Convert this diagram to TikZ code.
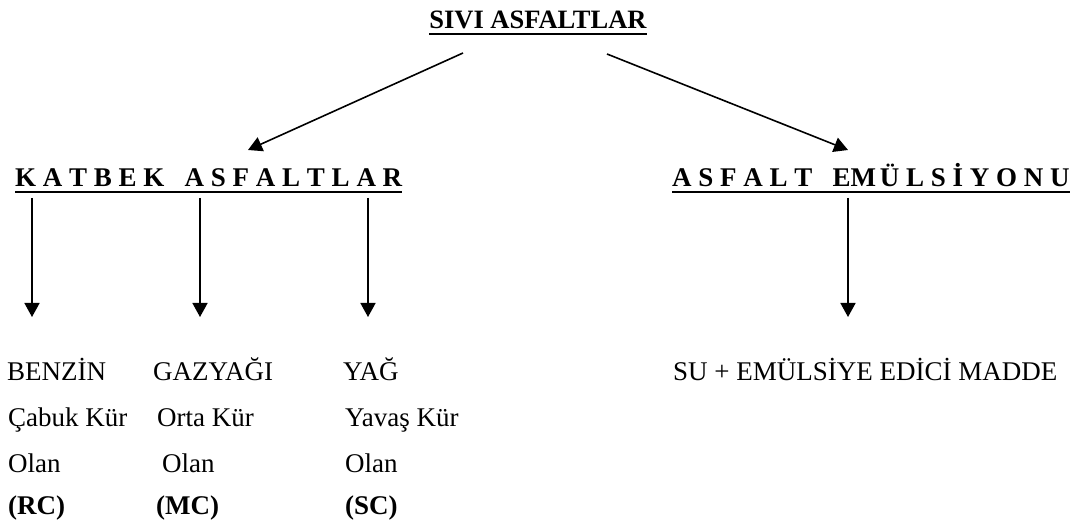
\documentclass[tikz,border=0pt]{standalone}
\usepackage{fontspec}
\setmainfont{Liberation Serif}
\usetikzlibrary{arrows.meta}
\begin{document}
\begin{tikzpicture}[x=1pt,y=-1pt,
    every node/.style={inner sep=0pt,anchor=base west,font=\fontsize{27}{32}\selectfont},
    head/.style={font=\fontsize{27}{32}\selectfont\bfseries},
    arr/.style={line width=1.6pt,-{Triangle[width=15pt,length=14pt]}},
    uline/.style={line width=2.5pt}]
    \useasboundingbox (0,0) rectangle (1077,529);

    % headings
    \node[head,font=\fontsize{26.5}{32}\selectfont\bfseries,anchor=base] (title) at (538,29) {SIVI ASFALTLAR};
    \node[head] (katbek) at (15,187) {K A T B E K\ \ \ A S F A L T L A R};
    \node[head] (emul) at (672,187) {A S F A L T\ \ \ EM\kern-3pt\ Ü L S İ Y O N U};
    \draw[uline] ([yshift=-5pt]title.base west) -- ([yshift=-5pt]title.base east);
    \draw[uline] ([yshift=-5pt]katbek.base west) -- ([yshift=-5pt]katbek.base east);
    \draw[uline] ([yshift=-5pt]emul.base west) -- ([yshift=-5pt]emul.base east);

    % arrow ends
    \coordinate (l0) at (463,53);  \coordinate (l1) at (248,150);
    \coordinate (r0) at (607,54);  \coordinate (r1) at (848,150);
    \coordinate (a0) at (32,198);  \coordinate (a1) at (32,317);
    \coordinate (b0) at (200,198); \coordinate (b1) at (200,317);
    \coordinate (c0) at (368,198); \coordinate (c1) at (368,317);
    \coordinate (d0) at (848,198); \coordinate (d1) at (848,317);
    \draw[arr] (l0) -- (l1);
    \draw[arr] (r0) -- (r1);
    \draw[arr] (a0) -- (a1);
    \draw[arr] (b0) -- (b1);
    \draw[arr] (c0) -- (c1);
    \draw[arr] (d0) -- (d1);

    % first column
    \node (benzin) at (7,381) {BENZİN};
    \node (cabuk) at (8,427) {Çabuk Kür};
    \node (olan1) at (8,472) {Olan};
    \node[head] (rc) at (8,514) {(RC)};
    % second column
    \node (gazyagi) at (153,381) {GAZYAĞI};
    \node (orta) at (157,427) {Orta Kür};
    \node (olan2) at (162,472) {Olan};
    \node[head] (mc) at (156,514) {(MC)};
    % third column
    \node (yag) at (343,381) {YAĞ};
    \node (yavas) at (345,427) {Yavaş Kür};
    \node (olan3) at (345,472) {Olan};
    \node[head] (sc) at (345,514) {(SC)};
    % emulsion
    \node (su) at (673,381) {SU + EMÜLSİYE EDİCİ MADDE};
\end{tikzpicture}
\end{document}
